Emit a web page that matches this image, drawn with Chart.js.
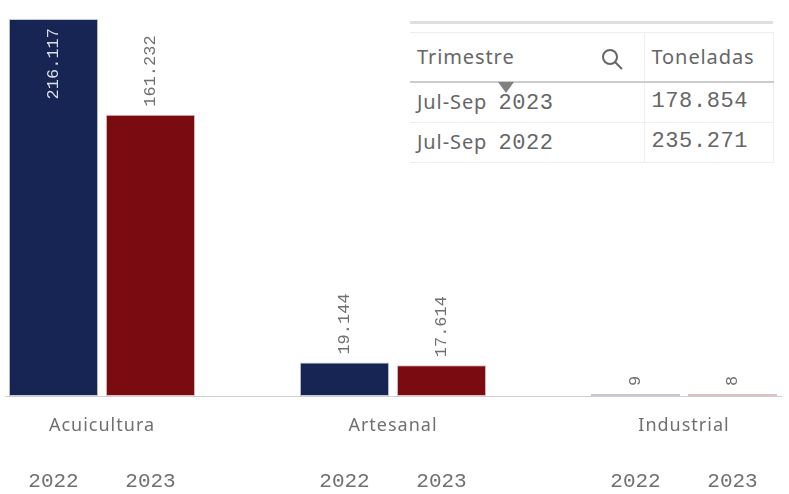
<!DOCTYPE html>
<html lang="es">
<head>
<meta charset="utf-8">
<title>Toneladas por subsector</title>
<script src="https://cdn.jsdelivr.net/npm/chart.js@4/dist/chart.umd.min.js"></script>
<style>
    html, body { margin: 0; padding: 0; background: #fff; }
    #wrap { position: relative; width: 789px; height: 494px; overflow: hidden; filter: blur(0.45px); }
    #grafico { position: absolute; left: 0; top: 0; }
    #topo { position: absolute; left: 410px; top: 21px; width: 363px; height: 3px; background: #dfdfdf; }
    #tabela { position: absolute; left: 410px; top: 32px; width: 363px; border-collapse: collapse; table-layout: fixed; color: #666; font: 20px "Noto Sans", sans-serif; letter-spacing: 0.9px; background: #fff; }
    #tabela th, #tabela td { border: 1px solid #eee; border-left: none; padding: 0 0 0 7px; text-align: left; font-weight: normal; white-space: nowrap; overflow: hidden; }
    #tabela th { height: 46px; padding-bottom: 2px; border-bottom: 2px solid #ccc; position: relative; }
    #tabela td { height: 37px; padding-bottom: 2px; }
    #tabela .num { font-family: "Liberation Mono", monospace; font-size: 22px; letter-spacing: 0.6px; }
    #tabela td span.num { margin-left: 5px; }
    #tabela svg { position: absolute; left: 190px; top: 14px; }
    #seta { position: absolute; left: 498px; top: 82px; width: 0; height: 0; border-left: 8px solid transparent; border-right: 8px solid transparent; border-top: 11px solid #808080; }
</style>
</head>
<body>
<div id="wrap">
    <canvas id="grafico" width="789" height="494"></canvas>
    <div id="topo"></div>
    <table id="tabela">
        <colgroup><col style="width:234px"><col style="width:129px"></colgroup>
        <thead><tr id="tabelaCab"></tr></thead>
        <tbody id="tabelaCorpo"></tbody>
    </table>
    <div id="seta"></div>
</div>
<script>
// Dados do gráfico
const categorias = ['Acuicultura', 'Artesanal', 'Industrial'];
const anos = ['2022', '2023'];
const valores2022 = [216117, 19144, 9];
const valores2023 = [161232, 17614, 8];

// Dados da tabela
const colunasTabela = ['Trimestre', 'Toneladas'];
const trimestres = ['Jul-Sep 2023', 'Jul-Sep 2022'];
const toneladas = ['178.854', '235.271'];

// Monta os slots do eixo: 2022, 2023, vazio, 2022, 2023, vazio...
const rotulos = [];
const serie2022 = [];
const serie2023 = [];
categorias.forEach((c, i) => {
    rotulos.push(anos[0], anos[1]);
    serie2022.push(valores2022[i], null);
    serie2023.push(null, valores2023[i]);
    if (i < categorias.length - 1) {
        rotulos.push('');
        serie2022.push(null);
        serie2023.push(null);
    }
});

function formatar(v) {
    return v.toLocaleString('de-DE');
}

// Desenha os valores girados e os nomes das categorias
const rotulosPlugin = {
    id: 'rotulosPlugin',
    afterDatasetsDraw(chart) {
        const ctx = chart.ctx;
        const x = chart.scales.x;
        ctx.save();
        chart.data.datasets.forEach((ds, d) => {
            chart.getDatasetMeta(d).data.forEach((bar, i) => {
                const v = ds.data[i];
                if (v === null) return;
                const dentro = v > 200000;
                ctx.save();
                ctx.translate(bar.x, dentro ? bar.y + 9 : bar.y - 8);
                ctx.rotate(-Math.PI / 2);
                ctx.font = '17px "Liberation Mono", monospace';
                ctx.fillStyle = dentro ? '#dcdfe8' : '#707070';
                ctx.textAlign = dentro ? 'right' : 'left';
                ctx.textBaseline = 'middle';
                ctx.fillText(formatar(v), 0, 0);
                ctx.restore();
            });
        });
        ctx.font = '18px "Noto Sans", sans-serif';
        ctx.letterSpacing = '1px';
        ctx.fillStyle = '#707070';
        ctx.textAlign = 'center';
        ctx.textBaseline = 'middle';
        categorias.forEach((c, i) => {
            const meio = (x.getPixelForValue(i * 3) + x.getPixelForValue(i * 3 + 1)) / 2;
            ctx.fillText(c, meio, 426);
        });
        ctx.restore();
    }
};

new Chart(document.getElementById('grafico'), {
    type: 'bar',
    data: {
        labels: rotulos,
        datasets: [
            { label: anos[0], data: serie2022, backgroundColor: '#172554', borderColor: 'rgba(23,37,84,0.25)' },
            { label: anos[1], data: serie2023, backgroundColor: '#7a0b10', borderColor: 'rgba(122,11,16,0.25)' }
        ]
    },
    options: {
        responsive: false,
        animation: false,
        layout: { padding: { left: 5, right: 8, top: 19, bottom: 0 } },
        plugins: { legend: { display: false }, tooltip: { enabled: false } },
        datasets: {
            bar: {
                grouped: false,
                barPercentage: 0.92,
                categoryPercentage: 1,
                borderWidth: 1,
                borderSkipped: false,
                minBarLength: 2
            }
        },
        scales: {
            x: {
                afterFit(scale) {
                    scale.height = 98;
                    scale.paddingLeft = 0;
                    scale.paddingRight = 0;
                },
                grid: { display: false },
                border: { display: true, color: '#cfcfcf', width: 1 },
                ticks: {
                    autoSkip: false,
                    maxRotation: 0,
                    padding: 65,
                    color: '#707070',
                    font: { family: '"Liberation Mono", monospace', size: 21 }
                }
            },
            y: { display: false, min: 0, max: valores2022[0] }
        }
    },
    plugins: [rotulosPlugin]
});

// Preenche a tabela
colunasTabela.forEach((t, i) => {
    const th = document.createElement('th');
    th.textContent = t;
    if (i === 0) {
        th.innerHTML += '<svg width="26" height="24" viewBox="0 0 26 24" fill="none" stroke="#666" stroke-width="2"><circle cx="10" cy="10" r="7"/><path d="M15 15l7 7"/></svg>';
    }
    document.getElementById('tabelaCab').appendChild(th);
});
trimestres.forEach((t, i) => {
    const tr = document.createElement('tr');
    const partes = t.split(' ');
    tr.innerHTML = `<td>${partes[0]} <span class="num">${partes[1]}</span></td><td class="num">${toneladas[i]}</td>`;
    document.getElementById('tabelaCorpo').appendChild(tr);
});
</script>
</body>
</html>
